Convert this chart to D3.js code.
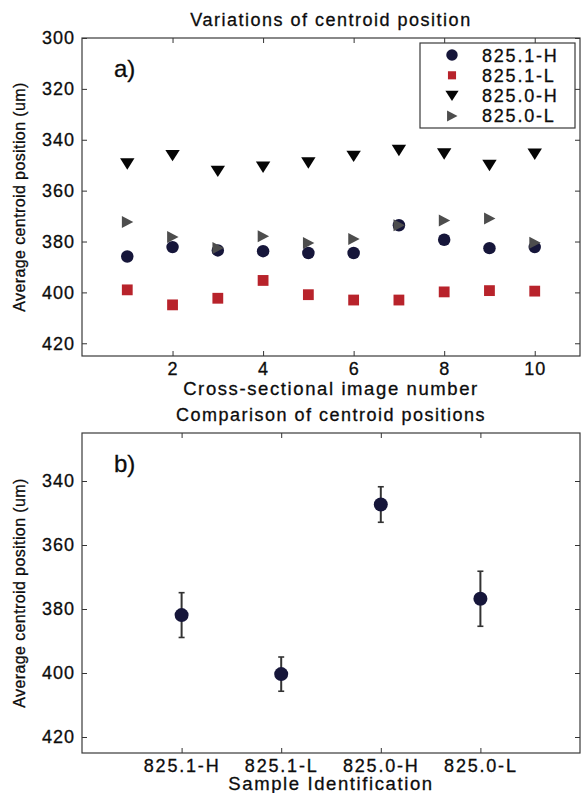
<!DOCTYPE html>
<html>
<head>
<meta charset="utf-8">
<script src="https://cdn.jsdelivr.net/npm/d3@7"></script>
<style>
  body { margin: 0; background: #fff; }
  svg text { font-family: "Liberation Sans", Arial, sans-serif; fill: #0c0c0c; stroke: #0c0c0c; stroke-width: 0.3px; }
  .tick text { font-size: 18px; letter-spacing: 1px; }
  .tick line { stroke: #333; stroke-width: 1; }
</style>
</head>
<body>
<div id="chart"></div>
<script>
// top panel: centroid per cross-sectional image
const imageNumbers = [1, 2, 3, 4, 5, 6, 7, 8, 9, 10];
const pos8251H = [385.9, 382.2, 383.5, 383.8, 384.5, 384.5, 373.6, 379.3, 382.6, 382.2];
const pos8251L = [399.0, 404.9, 402.3, 395.3, 400.9, 403.0, 403.0, 399.8, 399.3, 399.5];
const pos8250H = [349.4, 346.1, 352.3, 350.7, 349.0, 346.4, 344.1, 345.5, 350.0, 345.6];
const pos8250L = [372.3, 378.2, 382.5, 377.9, 380.6, 379.0, 373.6, 371.7, 371.0, 380.5];
const xTicksTop = [2, 4, 6, 8, 10];
const yTicksTop = [300, 320, 340, 360, 380, 400, 420];

// bottom panel: mean and spread per sample
const samples = ['825.1-H', '825.1-L', '825.0-H', '825.0-L'];
const meanPos = [381.9, 400.35, 347.35, 376.8];
const errPos = [7.0, 5.35, 5.55, 8.6];
const yTicksBottom = [340, 360, 380, 400, 420];

const W = 583, H = 793;
const svg = d3.select('#chart').append('svg').attr('width', W).attr('height', H);

const series = [
    { name: '825.1-H', values: pos8251H, shape: 'circle', color: '#16163a' },
    { name: '825.1-L', values: pos8251L, shape: 'square', color: '#b8232b' },
    { name: '825.0-H', values: pos8250H, shape: 'down', color: '#050505' },
    { name: '825.0-L', values: pos8250L, shape: 'right', color: '#4d4d4d' },
];

function marker(g, shape, color, s) {
    if (shape === 'circle') {
        return g.append('circle').attr('r', s * 0.52).attr('fill', color);
    }
    if (shape === 'square') {
        return g.append('rect').attr('x', -s * 0.45).attr('y', -s * 0.45)
            .attr('width', s * 0.9).attr('height', s * 0.9).attr('fill', color);
    }
    if (shape === 'down') {
        return g.append('path').attr('d', `M${-s * 0.6},${-s * 0.45}L${s * 0.6},${-s * 0.45}L0,${s * 0.5}Z`).attr('fill', color);
    }
    return g.append('path').attr('d', `M${-s * 0.45},${-s * 0.5}L${s * 0.5},0L${-s * 0.45},${s * 0.5}Z`).attr('fill', color);
}

function drawFrame(g, x, y, xTicks, yTicks, xFormat) {
    const [x0, x1] = x.range();
    const [yTop, yBot] = y.range();
    g.append('g').attr('transform', `translate(0,${yBot})`)
        .call(d3.axisBottom(x).tickValues(xTicks).tickFormat(xFormat).tickSizeInner(-5).tickSizeOuter(0).tickPadding(6))
        .call(a => a.select('.domain').remove());
    g.append('g').attr('transform', `translate(0,${yTop})`)
        .call(d3.axisTop(x).tickValues(xTicks).tickFormat('').tickSizeInner(-5).tickSizeOuter(0))
        .call(a => a.select('.domain').remove());
    g.append('g').attr('transform', `translate(${x0},0)`)
        .call(d3.axisLeft(y).tickValues(yTicks).tickSizeInner(-5).tickSizeOuter(0).tickPadding(7))
        .call(a => a.select('.domain').remove());
    g.append('g').attr('transform', `translate(${x1},0)`)
        .call(d3.axisRight(y).tickValues(yTicks).tickFormat('').tickSizeInner(-5).tickSizeOuter(0))
        .call(a => a.select('.domain').remove());
    g.append('rect').attr('x', x0).attr('y', yTop).attr('width', x1 - x0).attr('height', yBot - yTop)
        .attr('fill', 'none').attr('stroke', '#3a3a3a').attr('stroke-width', 1.2);
}

function labels(g, x, y, title, xlabel, tag, titleY, xlabelY) {
    const [x0, x1] = x.range();
    const [yTop, yBot] = y.range();
    const cx = (x0 + x1) / 2;
    g.append('text').attr('x', cx).attr('y', titleY).attr('text-anchor', 'middle')
        .style('font-size', '18px').style('letter-spacing', '1.5px').text(title);
    g.append('text').attr('x', cx).attr('y', xlabelY).attr('text-anchor', 'middle')
        .style('font-size', '18.5px').style('letter-spacing', '1.6px').text(xlabel);
    g.append('text').attr('transform', `translate(25,${(yTop + yBot) / 2}) rotate(-90)`)
        .attr('text-anchor', 'middle').style('font-size', '16px').style('letter-spacing', '0.4px')
        .text('Average centroid position (um)');
    g.append('text').attr('x', x0 + 32).attr('y', yTop + 39)
        .style('font-size', '24px').text(tag);
}

// ---- panel a ----
const xa = d3.scaleLinear().domain([0, 11]).range([82, 580]);
const ya = d3.scaleLinear().domain([300, 425]).range([38, 356]);
const ga = svg.append('g');
drawFrame(ga, xa, ya, xTicksTop, yTicksTop, d3.format('d'));
labels(ga, xa, ya, 'Variations of centroid position', 'Cross-sectional image number', 'a)', 26, 395);

series.forEach(s => {
    ga.append('g').selectAll('g')
        .data(s.values)
        .join('g')
        .attr('transform', (d, i) => `translate(${xa(imageNumbers[i])},${ya(d)})`)
        .each(function () { marker(d3.select(this), s.shape, s.color, 12); });
});

// legend
const lg = ga.append('g');
lg.append('rect').attr('x', 420).attr('y', 43).attr('width', 155).attr('height', 85)
    .attr('fill', '#fff').attr('stroke', '#3a3a3a').attr('stroke-width', 1.2);
series.forEach((s, i) => {
    const row = lg.append('g').attr('transform', `translate(0,${55 + i * 20.3})`);
    marker(row.append('g').attr('transform', 'translate(452,0)'), s.shape, s.color, s.shape === 'square' ? 9 : 11);
    row.append('text').attr('x', 482).attr('y', 6.5).style('font-size', '18px')
        .style('letter-spacing', '1.8px').text(s.name);
});

// ---- panel b ----
const xb = d3.scaleLinear().domain([0, 5]).range([82, 580]);
const yb = d3.scaleLinear().domain([325, 425]).range([433, 753]);
const gb = svg.append('g');
drawFrame(gb, xb, yb, [1, 2, 3, 4], yTicksBottom, (d) => samples[d - 1]);
labels(gb, xb, yb, 'Comparison of centroid positions', 'Sample Identification', 'b)', 421, 790);
gb.selectAll('.tick text').filter(function () { return isNaN(+this.textContent); })
    .style('letter-spacing', '1.8px');

const eb = gb.append('g').selectAll('g')
    .data(samples)
    .join('g');
eb.append('line')
    .attr('x1', (d, i) => xb(i + 1)).attr('x2', (d, i) => xb(i + 1))
    .attr('y1', (d, i) => yb(meanPos[i] - errPos[i])).attr('y2', (d, i) => yb(meanPos[i] + errPos[i]))
    .attr('stroke', '#333').attr('stroke-width', 2);
[-1, 1].forEach(sign => {
    eb.append('line')
        .attr('x1', (d, i) => xb(i + 1) - 3).attr('x2', (d, i) => xb(i + 1) + 3)
        .attr('y1', (d, i) => yb(meanPos[i] + sign * errPos[i])).attr('y2', (d, i) => yb(meanPos[i] + sign * errPos[i]))
        .attr('stroke', '#333').attr('stroke-width', 1.6);
});
eb.append('circle')
    .attr('cx', (d, i) => xb(i + 1)).attr('cy', (d, i) => yb(meanPos[i]))
    .attr('r', 7).attr('fill', '#16163a');
</script>
</body>
</html>
